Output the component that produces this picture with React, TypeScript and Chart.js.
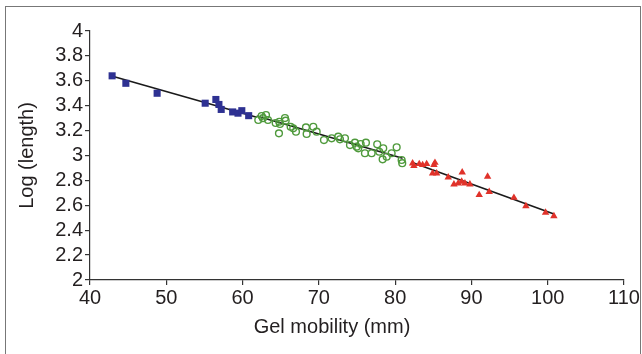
import React, { useEffect, useRef } from "react";
import { Chart, registerables } from "chart.js";

Chart.register(...registerables);

const blueX = [42.9, 44.7, 48.8, 55.1, 56.5, 56.9, 57.2, 58.7, 59.4, 59.9, 60.8];
const blueY = [3.64, 3.58, 3.50, 3.42, 3.45, 3.41, 3.37, 3.35, 3.34, 3.36, 3.32];

const greenX = [62.06, 62.5, 63.07, 62.67, 63.33, 64.34, 64.81, 64.9, 65.56, 65.65, 64.77, 66.3, 67.0, 66.64, 68.31, 68.4, 69.27, 69.71, 70.67, 71.68, 72.54, 72.77, 73.42, 74.08, 74.73, 74.95, 75.16, 75.48, 76.17, 76.04, 76.92, 77.65, 77.92, 78.44, 78.36, 78.89, 79.54, 80.2, 80.85, 80.93];
const greenY = [3.285, 3.317, 3.325, 3.3, 3.285, 3.261, 3.271, 3.253, 3.301, 3.28, 3.178, 3.231, 3.191, 3.218, 3.226, 3.173, 3.231, 3.191, 3.124, 3.138, 3.151, 3.13, 3.138, 3.084, 3.103, 3.071, 3.058, 3.092, 3.103, 3.018, 3.018, 3.09, 3.03, 3.058, 2.969, 2.99, 3.018, 3.066, 2.964, 2.938];

const redX = [82.29, 82.46, 83.16, 83.6, 84.13, 85.09, 85.22, 84.91, 85.44, 86.96, 88.79, 87.71, 88.27, 88.72, 89.15, 89.8, 92.12, 91.02, 92.33, 95.57, 97.14, 99.72, 100.81];
const redY = [2.937, 2.916, 2.932, 2.924, 2.932, 2.924, 2.942, 2.857, 2.857, 2.825, 2.865, 2.769, 2.777, 2.79, 2.777, 2.769, 2.83, 2.683, 2.709, 2.661, 2.594, 2.541, 2.514];

const blueFitX = [42.84, 61.85];
const blueFitY = [3.639, 3.307];
const greenFitX = [61.85, 80.98];
const greenFitY = [3.317, 2.978];
const redFitX = [82.16, 100.81];
const redFitY = [2.945, 2.53];

const xTicks = [40, 50, 60, 70, 80, 90, 100, 110];
const yTicks = [2, 2.2, 2.4, 2.6, 2.8, 3, 3.2, 3.4, 3.6, 3.8, 4];

const xTitle = "Gel mobility (mm)";
const yTitle = "Log (length)";

const pts = (xs: number[], ys: number[]) => xs.map((x, i) => ({ x, y: ys[i] }));

const FONT = "'Liberation Sans', Arial, sans-serif";
const TEXT = "#231f20";

const xTitlePlugin = {
  id: "xTitleText",
  afterDraw(chart: any) {
    const ctx = chart.ctx;
    ctx.save();
    ctx.font = `20px ${FONT}`;
    ctx.fillStyle = TEXT;
    ctx.textAlign = "center";
    ctx.textBaseline = "middle";
    ctx.fillText(xTitle, 332, 327);
    ctx.restore();
  },
};

export default function App() {
  const ref = useRef<HTMLCanvasElement | null>(null);
  useEffect(() => {
    if (!ref.current) return;
    const line = (xs: number[], ys: number[]) => ({
      type: "line" as const,
      data: pts(xs, ys),
      borderColor: "#1a1a1a",
      borderWidth: 1.6,
      pointRadius: 0,
      showLine: true,
      fill: false,
    });
    const chart = new Chart(ref.current, {
      type: "scatter",
      plugins: [xTitlePlugin],
      data: {
        datasets: [
          {
            data: pts(blueX, blueY),
            pointStyle: "rect",
            pointRadius: 5,
            backgroundColor: "#2e3192",
            borderColor: "#2e3192",
            borderWidth: 0,
          },
          {
            data: pts(greenX, greenY),
            pointStyle: "circle",
            pointRadius: 3.4,
            backgroundColor: "rgba(0,0,0,0)",
            borderColor: "#4f9a3c",
            borderWidth: 1.4,
          },
          {
            data: pts(redX, redY),
            pointStyle: "triangle",
            pointRadius: 4.3,
            backgroundColor: "#e0322a",
            borderColor: "#e0322a",
            borderWidth: 0,
          },
          line(blueFitX, blueFitY),
          line(greenFitX, greenFitY),
          line(redFitX, redFitY),
        ] as any,
      },
      options: {
        animation: false,
        responsive: false,
        maintainAspectRatio: false,
        layout: { padding: { left: 8, right: 18, top: 31, bottom: 8 } },
        plugins: { legend: { display: false }, tooltip: { enabled: false } },
        scales: {
          x: {
            type: "linear",
            min: 40,
            max: 110,
            afterBuildTicks: (s: any) => {
              s.ticks = xTicks.map((v) => ({ value: v }));
            },
            afterFit: (s: any) => {
              s.height = 354 - 8 - 280;
            },
            border: { display: true, color: "#333", width: 1.2 },
            grid: { display: true, drawOnChartArea: false, drawTicks: true, tickLength: 5, color: "#333", lineWidth: 1.2 },
            ticks: { color: TEXT, font: { family: FONT, size: 20 }, padding: 1, maxRotation: 0, autoSkip: false },
            title: { display: false, text: xTitle },
          },
          y: {
            type: "linear",
            min: 2,
            max: 4,
            afterBuildTicks: (s: any) => {
              s.ticks = yTicks.map((v) => ({ value: v }));
            },
            afterFit: (s: any) => {
              s.width = 90 - 8;
            },
            border: { display: true, color: "#333", width: 1.2 },
            grid: { display: true, drawOnChartArea: false, drawTicks: true, tickLength: 5, color: "#333", lineWidth: 1.2 },
            ticks: {
              color: TEXT,
              font: { family: FONT, size: 20 },
              padding: 2,
              autoSkip: false,
              callback: (v: any) => String(Math.round(v * 10) / 10),
            },
            title: { display: true, text: yTitle, color: TEXT, font: { family: FONT, size: 20 }, padding: { top: 7, bottom: 0 } },
          },
        },
      },
    });
    return () => chart.destroy();
  }, []);
  return (
    <div style={{ position: "absolute", left: 0, top: 0, width: 642, height: 354, background: "#fff" }}>
      <div style={{ position: "absolute", left: 5, top: 6, width: 636, height: 348, borderLeft: "1px solid #777", borderTop: "1px solid #777", borderRight: "1px solid #777", boxSizing: "border-box" }} />
      <canvas ref={ref} width={642} height={354} style={{ position: "absolute", left: 0, top: 0 }} />
    </div>
  );
}
